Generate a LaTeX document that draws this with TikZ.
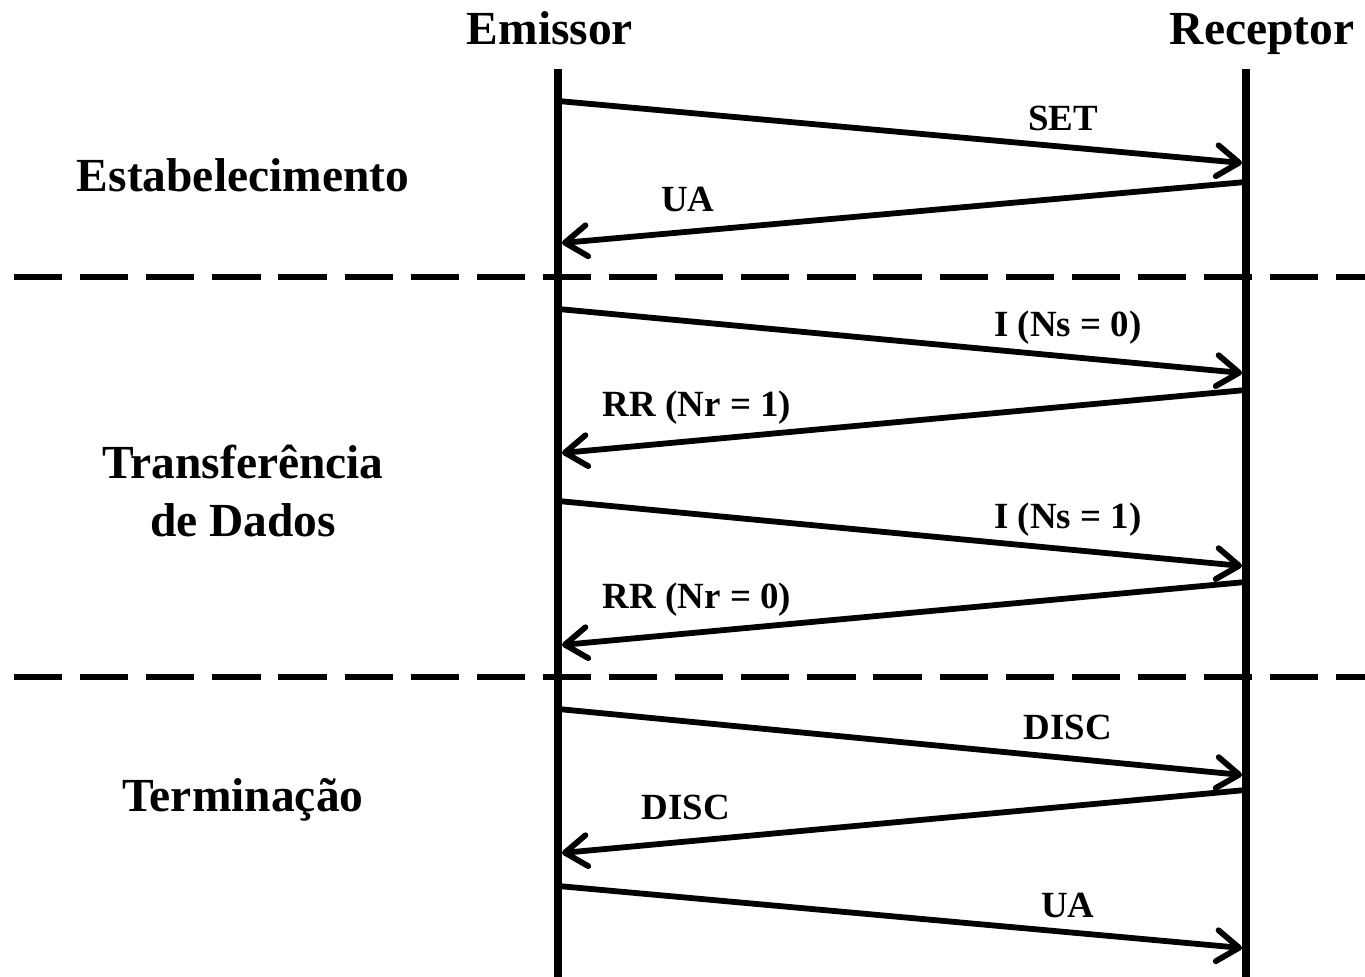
\documentclass[tikz,border=0pt]{standalone}
\usepackage{fontspec}
\setmainfont{Liberation Serif}
\usetikzlibrary{arrows.meta}

\begin{document}
\begin{tikzpicture}[
    x=0.01cm, y=-0.01cm,
    >={Straight Barb[length=2.2mm, width=3.1mm, line cap=round, round]},
    title/.style   = {font=\fontsize{13.5}{16.5}\selectfont\bfseries, align=center},
    msglabel/.style = {font=\fontsize{10.5}{12}\selectfont\bfseries, inner sep=1pt},
    lifeline/.style = {line width=2.3pt},
    msg/.style     = {->, line width=1.65pt},
    phase/.style   = {line width=1.7pt, dash pattern=on 13.7pt off 5.1pt}
]
\useasboundingbox (0,0) rectangle (1365,977);

% PARTICIPANTS
\node[title, anchor=base] (em) at (550,45) {Emissor};
\node[title, anchor=base] (re) at (1262,45) {Receptor};

% LIFELINES
\coordinate (emTop) at (558,69);
\coordinate (emBot) at (558,977);
\coordinate (reTop) at (1246,69);
\coordinate (reBot) at (1246,977);
\draw[lifeline] (emTop) -- (emBot);
\draw[lifeline] (reTop) -- (reBot);

% PHASE SEPARATORS
\coordinate (d1a) at (14,277);  \coordinate (d1b) at (1365,277);
\coordinate (d2a) at (14,677);  \coordinate (d2b) at (1365,677);
\draw[phase] (d1a) -- (d1b);
\draw[phase] (d2a) -- (d2b);

% PHASE NAMES
\node[title] (pEst) at (243,175) {Estabelecimento};
\node[title] (pTra) at (243,491) {Transferência\\de Dados};
\node[title] (pTer) at (243,800) {Terminação};

% MESSAGES emissor -> receptor
\foreach \k/\ya/\yb in {1/101/163, 3/309/373, 5/501/566, 7/709/775, 9/886/948}{
  \coordinate (s\k) at (558,\ya);
  \coordinate (t\k) at (1242,\yb);
  \draw[msg] (s\k) -- (t\k);
}
% MESSAGES receptor -> emissor
\foreach \k/\ya/\yb in {2/182/243, 4/390/453, 6/582/645, 8/790/853}{
  \coordinate (s\k) at (1246,\ya);
  \coordinate (t\k) at (562,\yb);
  \draw[msg] (s\k) -- (t\k);
}

% LABELS
\node[msglabel] (l1) at (1063,118) {SET};
\node[msglabel] (l2) at (688,200)  {UA};
\node[msglabel] (l3) at (1068,328) {I (Ns = 0)};
\node[msglabel] (l4) at (697,408)  {RR (Nr = 1)};
\node[msglabel] (l5) at (1068,520) {I (Ns = 1)};
\node[msglabel] (l6) at (697,600)  {RR (Nr = 0)};
\node[msglabel] (l7) at (1068,727) {DISC};
\node[msglabel] (l8) at (686,807)  {DISC};
\node[msglabel] (l9) at (1068,905) {UA};

\end{tikzpicture}
\end{document}
